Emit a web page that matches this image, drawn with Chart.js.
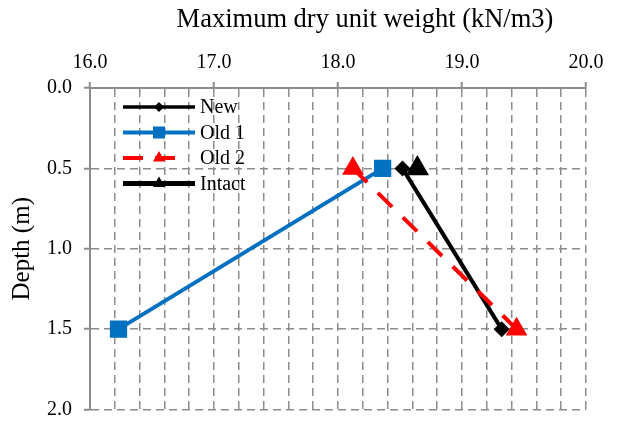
<!DOCTYPE html>
<html>
<head>
<meta charset="utf-8">
<script src="https://cdn.jsdelivr.net/npm/chart.js@4.4.1/dist/chart.umd.min.js"></script>
<style>
  body { margin: 0; background: #fff; }
  canvas { display: block; }
</style>
</head>
<body>
<canvas id="chart" width="618" height="423"></canvas>
<script>
// depth of each sample (m) and max dry unit weight (kN/m3) per series
const depths = [0.5, 1.5];
const newWeights = [18.52, 19.32];
const old1Weights = [18.36, 16.23];
const old2Weights = [18.12, 19.44];
const intactDepths = [0.5];
const intactWeights = [18.64];

const xTitle = 'Maximum dry unit weight (kN/m3)';
const serif = "'Liberation Serif', 'Times New Roman', serif";
const gridGrey = '#8c8c8c';

function toPoints(xs, ys) {
  return ys.map((d, i) => ({ x: xs[i], y: d }));
}

///// marker shapes, same geometry chart.js uses
function drawMarker(ctx, style, x, y, r) {
  ctx.beginPath();
  if (style === 'rect') {
    const s = Math.SQRT1_2 * r;
    ctx.rect(x - s, y - s, 2 * s, 2 * s);
  } else if (style === 'rectRot') {
    ctx.moveTo(x - r, y);
    ctx.lineTo(x, y - r);
    ctx.lineTo(x + r, y);
    ctx.lineTo(x, y + r);
    ctx.closePath();
  } else if (style === 'triangle') {
    ctx.moveTo(x, y - r);
    ctx.lineTo(x + 0.866 * r, y + 0.5 * r);
    ctx.lineTo(x - 0.866 * r, y + 0.5 * r);
    ctx.closePath();
  }
  ctx.fill();
}

///// legend drawn inside the plot: line + marker + label
const insideLegend = {
  id: 'insideLegend',
  afterDatasetsDraw(chart) {
    const ctx = chart.ctx;
    const area = chart.chartArea;
    const x0 = area.left + 33;
    const x1 = area.left + 105;
    const xm = (x0 + x1) / 2;
    let y = area.top + 19;
    chart.data.datasets.forEach(ds => {
      ctx.save();
      ctx.strokeStyle = ds.borderColor;
      ctx.lineWidth = ds.legendLineWidth;
      ctx.setLineDash(ds.legendDash || []);
      ctx.beginPath();
      ctx.moveTo(x0, y);
      ctx.lineTo(ds.legendDash ? x0 + 58 : x1, y);
      ctx.stroke();
      ctx.setLineDash([]);
      ctx.fillStyle = ds.pointBackgroundColor;
      drawMarker(ctx, ds.pointStyle, xm, y, ds.legendRadius);
      ctx.fillStyle = '#000';
      ctx.font = '20px ' + serif;
      ctx.textBaseline = 'middle';
      ctx.textAlign = 'left';
      ctx.fillText(ds.label, x1 + 5, y + 1);
      ctx.restore();
      y += 25.5;
    });
  }
};

///// x axis title sits a little right of the plot centre
const topTitle = {
  id: 'topTitle',
  afterDraw(chart) {
    const ctx = chart.ctx;
    const sx = chart.scales.x;
    ctx.save();
    ctx.fillStyle = '#000';
    ctx.font = '26.5px ' + serif;
    ctx.textAlign = 'center';
    ctx.textBaseline = 'middle';
    ctx.fillText(xTitle, (sx.left + sx.right) / 2 + 27, 20);
    ctx.restore();
  }
};

const isMajor = v => Math.abs(v - Math.round(v)) < 1e-6;

new Chart(document.getElementById('chart'), {
  type: 'scatter',
  data: {
    datasets: [
      {
        label: 'New',
        data: toPoints(newWeights, depths),
        showLine: true,
        borderColor: '#000',
        borderWidth: 4,
        pointStyle: 'rectRot',
        pointRadius: 8,
        pointBackgroundColor: '#000',
        pointBorderWidth: 0,
        legendLineWidth: 3.5,
        legendRadius: 5,
        order: 4
      },
      {
        label: 'Old 1',
        data: toPoints(old1Weights, depths),
        showLine: true,
        borderColor: '#0070c0',
        borderWidth: 4,
        pointStyle: 'rect',
        pointRadius: 12.2,
        pointBackgroundColor: '#0070c0',
        pointBorderWidth: 0,
        legendLineWidth: 4,
        legendRadius: 8.5,
        order: 3
      },
      {
        label: 'Old 2',
        data: toPoints(old2Weights, depths),
        showLine: true,
        borderColor: '#ff0000',
        borderWidth: 4,
        borderDash: [20, 15],
        borderCapStyle: 'butt',
        pointStyle: 'triangle',
        pointRadius: 12.5,
        pointBackgroundColor: '#ff0000',
        pointBorderWidth: 0,
        legendLineWidth: 4,
        legendDash: [20, 12],
        legendRadius: 7,
        order: 2
      },
      {
        label: 'Intact',
        data: toPoints(intactWeights, intactDepths),
        showLine: true,
        borderColor: '#000',
        borderWidth: 5,
        pointStyle: 'triangle',
        pointRadius: 13.5,
        pointBackgroundColor: '#000',
        pointBorderWidth: 0,
        legendLineWidth: 5,
        legendRadius: 7,
        order: 1
      }
    ]
  },
  options: {
    responsive: false,
    animation: false,
    devicePixelRatio: 1,
    layout: { padding: { left: 0, top: 0, right: 32, bottom: 12 } },
    plugins: {
      legend: { display: false },
      tooltip: { enabled: false }
    },
    scales: {
      x: {
        type: 'linear',
        position: 'top',
        min: 16,
        max: 20,
        afterFit: s => { s.height = 88; },
        title: { display: false },
        ticks: {
          stepSize: 0.2,
          autoSkip: false,
          maxRotation: 0,
          padding: 7,
          color: '#000',
          font: { family: serif, size: 20 },
          callback: v => isMajor(v) ? v.toFixed(1) : ''
        },
        grid: {
          color: gridGrey,
          lineWidth: 1.5,
          tickLength: 6,
          tickWidth: 2,
          tickColor: c => isMajor(c.tick.value) ? gridGrey : 'rgba(0,0,0,0)'
        },
        border: { display: true, color: gridGrey, width: 2, dash: [8, 5] }
      },
      y: {
        type: 'linear',
        reverse: true,
        min: 0,
        max: 2,
        afterFit: s => { s.width = 90; s.paddingTop = 0; s.paddingBottom = 0; },
        title: {
          display: true,
          text: 'Depth (m)',
          color: '#000',
          font: { family: serif, size: 25 },
          padding: { top: 7, bottom: 0 }
        },
        ticks: {
          stepSize: 0.5,
          padding: 12,
          color: '#000',
          font: { family: serif, size: 20 },
          callback: v => v.toFixed(1)
        },
        grid: {
          color: gridGrey,
          lineWidth: 1.5,
          tickLength: 6,
          tickWidth: 2,
          tickColor: gridGrey
        },
        border: { display: true, color: gridGrey, width: 2, dash: [8, 5] }
      }
    }
  },
  plugins: [insideLegend, topTitle]
});
</script>
</body>
</html>
